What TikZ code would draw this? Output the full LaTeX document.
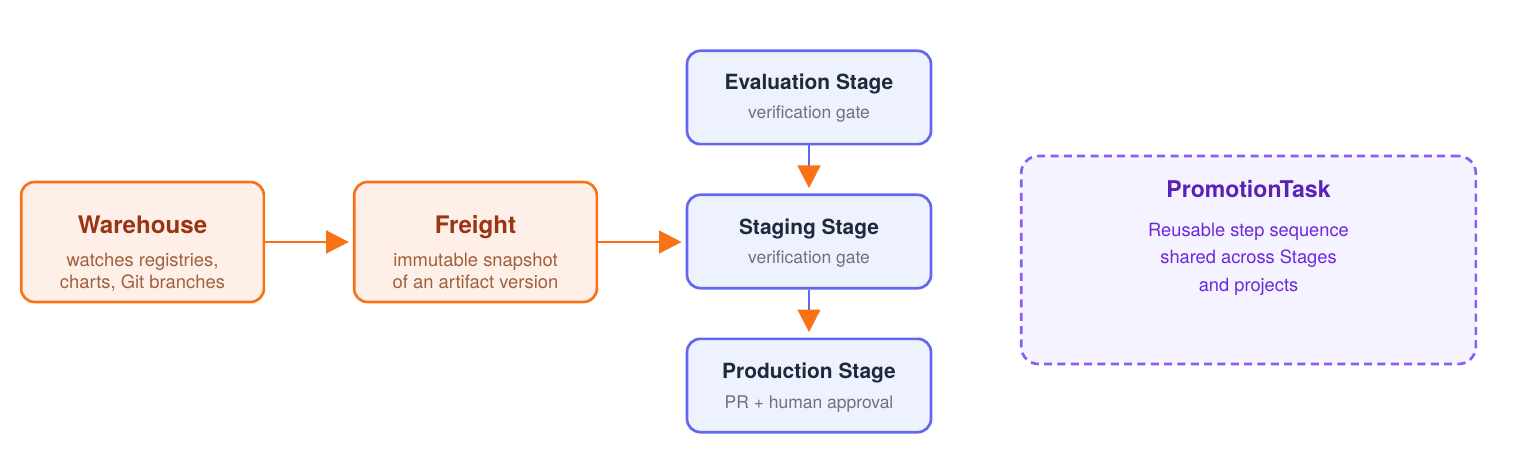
\documentclass[tikz,border=0pt]{standalone}
\usepackage{fontspec}
\setmainfont{TeX Gyre Heros}
\usetikzlibrary{arrows.meta}
\definecolor{orangeline}{HTML}{F97316}
\definecolor{orangefill}{HTML}{FEF0E9}
\definecolor{orangetitle}{HTML}{9A3412}
\definecolor{orangetext}{HTML}{A0603C}
\definecolor{stageline}{HTML}{6366F1}
\definecolor{stagefill}{HTML}{EEF2FF}
\definecolor{stagetitle}{HTML}{1E293B}
\definecolor{stagetext}{HTML}{6B7280}
\definecolor{taskline}{HTML}{8B5CF6}
\definecolor{taskfill}{HTML}{F5F3FF}
\definecolor{tasktitle}{HTML}{5B21B6}
\definecolor{tasktext}{HTML}{6D28D9}
\tikzset{
  orangebox/.style={draw=orangeline, fill=orangefill, rounded corners=10pt, minimum width=182pt, minimum height=90pt, inner sep=0pt},
  stagebox/.style={draw=stageline, fill=stagefill, rounded corners=10pt, minimum width=183pt, minimum height=70pt, inner sep=0pt},
  taskbox/.style={draw=taskline, fill=taskfill, dash pattern=on 6pt off 4pt, rounded corners=13pt, minimum width=341pt, minimum height=156pt, inner sep=0pt},
  txt/.style={anchor=base, inner sep=0pt},
  otitle/.style={txt, text=orangetitle, font=\fontsize{18.1}{22}\selectfont\bfseries},
  otext/.style={txt, text=orangetext, font=\fontsize{13.8}{16}\selectfont},
  stitle/.style={txt, text=stagetitle, font=\fontsize{15.7}{19}\selectfont\bfseries},
  stext/.style={txt, text=stagetext, font=\fontsize{13.1}{15}\selectfont},
  ttitle/.style={txt, text=tasktitle, font=\fontsize{17.3}{20}\selectfont\bfseries},
  ttext/.style={txt, text=tasktext, font=\fontsize{13.7}{16}\selectfont},
}
\begin{document}
\begin{tikzpicture}[x=0.75pt, y=-0.75pt, line width=2pt,
    >={Triangle[length=17pt, width=17pt, color=orangeline]}]
    \useasboundingbox (0,0) rectangle (1513,456);
    % source side
    \node[orangebox] (warehouse) at (142.5,242) {};
    \node[otitle] (warehouse-t) at (142.5,233.3) {Warehouse};
    \node[otext] (warehouse-a) at (142.5,266.7) {watches registries,};
    \node[otext] (warehouse-b) at (142.5,288.3) {charts, Git branches};
    \node[orangebox] (freight) at (475.5,242) {};
    \node[otitle] (freight-t) at (475.5,233.3) {Freight};
    \node[otext] (freight-a) at (475.5,266.7) {immutable snapshot};
    \node[otext] (freight-b) at (475.5,288.3) {of an artifact version};
    % stages
    \node[stagebox] (evaluation) at (809,97.5) {};
    \node[stitle] (evaluation-t) at (809,90) {Evaluation Stage};
    \node[stext] (evaluation-a) at (809,119) {verification gate};
    \node[stagebox] (staging) at (809,241.5) {};
    \node[stitle] (staging-t) at (809,234) {Staging Stage};
    \node[stext] (staging-a) at (809,263) {verification gate};
    \node[stagebox] (production) at (809,385.5) {};
    \node[stitle] (production-t) at (809,378) {Production Stage};
    \node[stext] (production-a) at (809,408) {PR + human approval};
    % shared task
    \node[taskbox] (task) at (1248.5,260) {};
    \node[ttitle] (task-t) at (1248.5,198) {PromotionTask};
    \node[ttext] (task-a) at (1248.5,236) {Reusable step sequence};
    \node[ttext] (task-b) at (1248.5,263.5) {shared across Stages};
    \node[ttext] (task-c) at (1248.5,291) {and projects};
    % connectors
    \draw[->, orangeline, shorten >=3pt] (warehouse) -- (freight);
    \draw[->, orangeline, shorten >=3pt] (freight) -- (freight -| staging.west);
    \draw[->, stageline, shorten >=4pt] (evaluation) -- (staging);
    \draw[->, stageline, shorten >=4pt] (staging) -- (production);
\end{tikzpicture}
\end{document}
